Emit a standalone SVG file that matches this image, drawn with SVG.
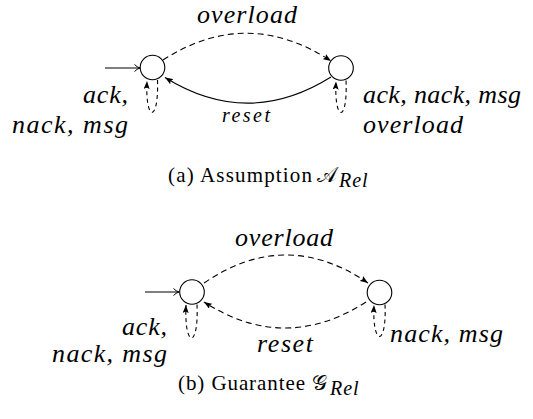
<svg xmlns="http://www.w3.org/2000/svg" width="533" height="419" viewBox="0 0 533 419">
<style>
.st{fill:#fff;stroke:#000;stroke-width:1.1}
.e{fill:none;stroke:#000;stroke-width:1.1}
.d{stroke-dasharray:6 4}
.dl{stroke-dasharray:4 3.5}
.m{font-family:"Liberation Serif","DejaVu Serif",serif;font-style:italic;font-size:26px;fill:#000}
.ms{font-family:"Liberation Serif","DejaVu Serif",serif;font-style:italic;font-size:20px;fill:#000}
.sub{font-family:"Liberation Serif","DejaVu Serif",serif;font-style:italic;font-size:20px;fill:#000}
.cap{font-family:"Liberation Serif","DejaVu Serif",serif;font-size:21px;fill:#000}
</style>
<defs>
<marker id="ah" viewBox="0 0 8 6" refX="8" refY="3" markerWidth="8" markerHeight="6" orient="auto" markerUnits="userSpaceOnUse"><path d="M0,0 L8,3 L0,6 L1.5,3 z" fill="#000"/></marker>
<marker id="op" viewBox="0 0 6 8" refX="6" refY="4" markerWidth="6" markerHeight="8" orient="auto" markerUnits="userSpaceOnUse"><path d="M0.5,0.5 Q3,3.2 6,4 Q3,4.8 0.5,7.5" fill="none" stroke="#000" stroke-width="1"/></marker>
</defs>

<g id="connectors">
<line class="e" x1="105" y1="68" x2="140" y2="68" marker-end="url(#op)" stroke="#333"/>
<path class="e d" d="M163,60 Q247,6 331,61" marker-end="url(#ah)"/>
<path class="e" d="M331,77 Q248,129 165,77.5" marker-end="url(#ah)"/>
<path class="e dl" d="M157.5,80 C159,123 145,123 147,81" marker-end="url(#ah)"/>
<path class="e dl" d="M346,80.5 C348,123 334,123 336,81.5" marker-end="url(#ah)"/>
<line class="e" x1="145" y1="292" x2="179" y2="292" marker-end="url(#op)"/>
<path class="e d" d="M204,283 Q286,227 368,283" marker-end="url(#ah)"/>
<path class="e d" d="M366,302 Q285,354 204,302" marker-end="url(#ah)"/>
<path class="e dl" d="M197,304.5 C199,349 184,349 186,305" marker-end="url(#ah)"/>
<path class="e dl" d="M385,304.5 C387,347 372,347 374,305" marker-end="url(#ah)"/>
</g>

<g id="a-q0"><circle class="st" cx="152.5" cy="67.5" r="12.3"/></g>
<g id="a-q1"><circle class="st" cx="341" cy="68" r="12.3"/></g>
<g id="b-q0"><circle class="st" cx="192" cy="292" r="12.3"/></g>
<g id="b-q1"><circle class="st" cx="379.5" cy="292.5" r="12.3"/></g>

<g id="labels-a">
<text class="m" x="197" y="22.5" textLength="100">overload</text>
<text class="ms" x="222" y="122" textLength="48">reset</text>
<text class="m" x="83" y="103" textLength="45">ack,</text>
<text class="m" x="12" y="132.5" textLength="116">nack, msg</text>
<text class="m" x="363" y="103" textLength="158">ack, nack, msg</text>
<text class="m" x="363" y="133" textLength="100">overload</text>
</g>
<g id="labels-b">
<text class="m" x="235" y="246" textLength="98">overload</text>
<text class="m" x="257" y="352" textLength="56">reset</text>
<text class="m" x="122" y="335" textLength="45">ack,</text>
<text class="m" x="52" y="362" textLength="115">nack, msg</text>
<text class="m" x="390" y="342" textLength="113">nack, msg</text>
</g>

<g id="caption-a">
<text class="cap" x="168" y="181.5" textLength="144">(a) Assumption</text>
<text class="cap" x="317" y="181.5" font-size="22">𝒜</text>
<text class="sub" x="339" y="186.5" letter-spacing="1">Rel</text>
</g>
<g id="caption-b">
<text class="cap" x="178" y="390" textLength="127">(b) Guarantee</text>
<text class="cap" x="312" y="390" font-size="22">𝒢</text>
<text class="sub" x="330" y="395" letter-spacing="1">Rel</text>
</g>
</svg>
